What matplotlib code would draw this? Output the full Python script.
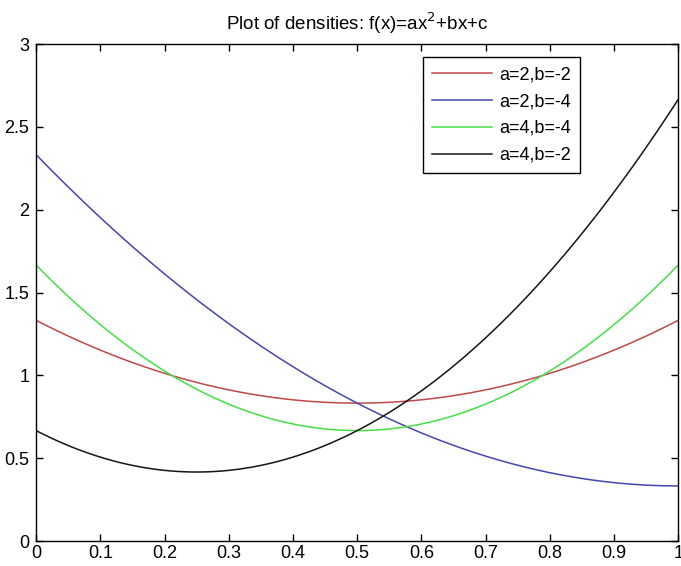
import numpy as np
import matplotlib
matplotlib.use("Agg")
import matplotlib.pyplot as plt

plt.rcParams['font.family'] = ['Liberation Sans', 'DejaVu Sans']

# coefficients of f(x)=ax^2+bx+c, c at x=0
a_vals = [2, 2, 4, 4]
b_vals = [-2, -4, -4, -2]
c_vals = [1.333, 2.333, 1.667, 0.667]
labels = ['a=2,b=-2', 'a=2,b=-4', 'a=4,b=-4', 'a=4,b=-2']
colors = ['#c04848', '#4646b0', '#46de46', '#151515']

xticks = [0, 0.1, 0.2, 0.3, 0.4, 0.5, 0.6, 0.7, 0.8, 0.9, 1]
yticks = [0, 0.5, 1, 1.5, 2, 2.5, 3]

fig = plt.figure(figsize=(6.81, 5.66), dpi=100)
ax = fig.add_axes([0.053, 0.044, 0.943, 0.878])

x = np.linspace(0, 1, 101)
for a, b, c, lab, col in zip(a_vals, b_vals, c_vals, labels, colors):
    ax.plot(x, np.polyval([a, b, c], x), color=col, lw=1.1, label=lab)

ax.set_xlim(0, 1)
ax.set_ylim(0, 3)
ax.set_xticks(xticks)
ax.set_xticklabels(['0', '0.1', '0.2', '0.3', '0.4', '0.5', '0.6', '0.7', '0.8', '0.9', '1'])
ax.set_yticks(yticks)
ax.set_yticklabels(['0', '0.5', '1', '1.5', '2', '2.5', '3'])
ax.tick_params(direction='in', length=5, width=1, labelsize=13, top=True, right=True)
ax.tick_params(axis='x', pad=3)
ax.tick_params(axis='y', pad=5)
for s in ax.spines.values():
    s.set_linewidth(1)

ax.set_title('Plot of densities: f(x)=ax$^2$+bx+c', fontsize=13.5, pad=10)

leg = ax.legend(loc='upper right', bbox_to_anchor=(0.847, 0.974), fontsize=13,
                fancybox=False, framealpha=1, edgecolor='black', handlelength=3.3,
                borderpad=0.5, labelspacing=0.55, handletextpad=0.4, borderaxespad=0)
leg.get_frame().set_linewidth(1)

fig.savefig('out.png', dpi=100)
